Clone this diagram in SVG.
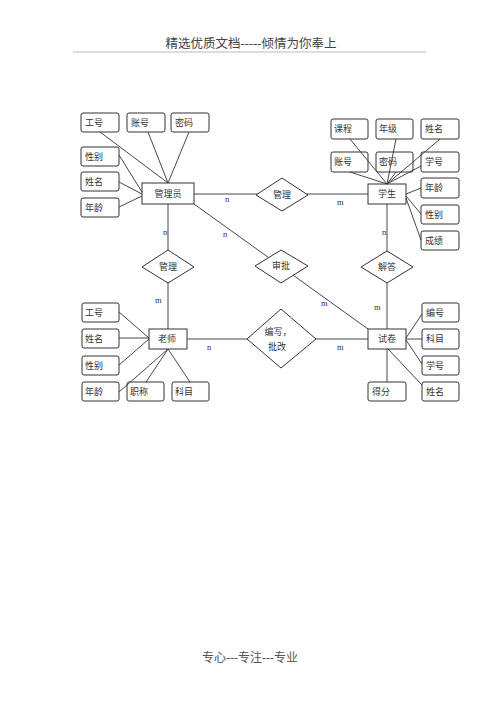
<svg xmlns="http://www.w3.org/2000/svg" width="500" height="708" viewBox="0 0 500 708">
<style>
text{font-family:"Liberation Serif","Noto Sans CJK SC",serif;fill:#333;}
.t{font-size:9px;text-anchor:middle;dominant-baseline:central;}
.c{font-size:8.5px;}
.box{fill:none;stroke:#333;stroke-width:1;}
.att{fill:none;stroke:#333;stroke-width:1;}
.dia{fill:#fff;stroke:#333;stroke-width:1;}
#connectors line{stroke:#333;stroke-width:0.9;}
</style>
<rect width="500" height="708" fill="#fff"/>
<text x="251" y="48" style="font-size:12.5px;text-anchor:middle;fill:#444">精选优质文档-----倾情为你奉上</text>
<line x1="73" y1="52" x2="426" y2="52" stroke="#bbb" stroke-width="1.2"/>
<text x="250" y="662" style="font-size:12px;text-anchor:middle;fill:#555">专心---专注---专业</text>

<g id="connectors">
<line x1="100" y1="132" x2="168" y2="183"/>
<line x1="148" y1="132" x2="168" y2="183"/>
<line x1="189" y1="132" x2="168" y2="183"/>
<line x1="119" y1="155" x2="142" y2="192"/>
<line x1="119" y1="182" x2="142" y2="194"/>
<line x1="119" y1="207" x2="142" y2="196"/>
<line x1="194" y1="194" x2="368" y2="194"/>
<line x1="194" y1="204" x2="368" y2="329"/>
<line x1="168" y1="204" x2="168" y2="329"/>
<line x1="350" y1="139" x2="387" y2="184"/>
<line x1="396" y1="139" x2="387" y2="184"/>
<line x1="440" y1="139" x2="387" y2="184"/>
<line x1="350" y1="172" x2="387" y2="184"/>
<line x1="396" y1="172" x2="387" y2="184"/>
<line x1="421" y1="166" x2="387" y2="184"/>
<line x1="421" y1="188" x2="406" y2="194"/>
<line x1="421" y1="214" x2="406" y2="196"/>
<line x1="421" y1="240" x2="406" y2="198"/>
<line x1="387" y1="204" x2="387" y2="329"/>
<line x1="187" y1="339" x2="368" y2="339"/>
<line x1="119" y1="312" x2="149" y2="338"/>
<line x1="119" y1="338" x2="149" y2="338"/>
<line x1="119" y1="365" x2="149" y2="339"/>
<line x1="119" y1="392" x2="168" y2="349"/>
<line x1="146" y1="382" x2="168" y2="349"/>
<line x1="190" y1="382" x2="168" y2="349"/>
<line x1="422" y1="314" x2="406" y2="338"/>
<line x1="422" y1="339" x2="406" y2="339"/>
<line x1="422" y1="364" x2="406" y2="340"/>
<line x1="422" y1="385" x2="388" y2="349"/>
<line x1="387" y1="349" x2="387" y2="382"/>
</g>

<g id="cardinalities" class="c">
<text x="225" y="202">n</text>
<text x="337" y="205">m</text>
<text x="223" y="237">n</text>
<text x="321" y="306">m</text>
<text x="163" y="235">n</text>
<text x="155" y="303">m</text>
<text x="382" y="235">n</text>
<text x="374" y="310">m</text>
<text x="207" y="350">n</text>
<text x="337" y="350">m</text>
</g>

<g id="admin"><rect class="box" x="142" y="183" width="52" height="21"/><text class="t" x="168" y="194">管理员</text></g>
<g id="a_gonghao"><rect class="att" x="81" y="113" width="38" height="19" rx="2"/><text class="t" x="94" y="123">工号</text></g>
<g id="a_zhanghao"><rect class="att" x="127" y="113" width="38" height="19" rx="2"/><text class="t" x="140" y="123">账号</text></g>
<g id="a_mima"><rect class="att" x="171" y="113" width="38" height="19" rx="2"/><text class="t" x="184" y="123">密码</text></g>
<g id="a_xingbie"><rect class="att" x="81" y="147" width="38" height="19" rx="2"/><text class="t" x="94" y="157">性别</text></g>
<g id="a_xingming"><rect class="att" x="81" y="172" width="38" height="19" rx="2"/><text class="t" x="94" y="182">姓名</text></g>
<g id="a_nianling"><rect class="att" x="81" y="198" width="38" height="19" rx="2"/><text class="t" x="94" y="208">年龄</text></g>

<g id="rel_guanli1"><polygon class="dia" points="256,195 282,178 308,195 282,211"/><text class="t" x="282" y="195">管理</text></g>

<g id="student"><rect class="box" x="368" y="184" width="38" height="20"/><text class="t" x="387" y="194">学生</text></g>
<g id="s_kecheng"><rect class="att" x="331" y="119" width="37" height="20" rx="2"/><text class="t" x="343" y="129">课程</text></g>
<g id="s_nianji"><rect class="att" x="376" y="119" width="37" height="20" rx="2"/><text class="t" x="388" y="129">年级</text></g>
<g id="s_xingming"><rect class="att" x="421" y="119" width="38" height="20" rx="2"/><text class="t" x="434" y="129">姓名</text></g>
<g id="s_zhanghao"><rect class="att" x="331" y="152" width="37" height="20" rx="2"/><text class="t" x="343" y="162">账号</text></g>
<g id="s_mima"><rect class="att" x="376" y="152" width="37" height="20" rx="2"/><text class="t" x="388" y="162">密码</text></g>
<g id="s_xuehao"><rect class="att" x="421" y="152" width="38" height="20" rx="2"/><text class="t" x="434" y="162">学号</text></g>
<g id="s_nianling"><rect class="att" x="421" y="178" width="38" height="20" rx="2"/><text class="t" x="434" y="188">年龄</text></g>
<g id="s_xingbie"><rect class="att" x="421" y="205" width="38" height="19" rx="2"/><text class="t" x="434" y="215">性别</text></g>
<g id="s_chengji"><rect class="att" x="421" y="231" width="38" height="19" rx="2"/><text class="t" x="434" y="241">成绩</text></g>

<g id="rel_guanli2"><polygon class="dia" points="142,267 168,250 194,267 168,283"/><text class="t" x="168" y="267">管理</text></g>
<g id="rel_shenpi"><polygon class="dia" points="255,266 281,250 308,266 281,283"/><text class="t" x="281" y="266">审批</text></g>
<g id="rel_jieda"><polygon class="dia" points="361,267 387,251 413,267 387,283"/><text class="t" x="387" y="267">解答</text></g>

<g id="teacher"><rect class="box" x="149" y="329" width="38" height="20"/><text class="t" x="167" y="339">老师</text></g>
<g id="t_gonghao"><rect class="att" x="82" y="303" width="37" height="19" rx="2"/><text class="t" x="94" y="313">工号</text></g>
<g id="t_xingming"><rect class="att" x="82" y="329" width="37" height="19" rx="2"/><text class="t" x="94" y="339">姓名</text></g>
<g id="t_xingbie"><rect class="att" x="82" y="356" width="37" height="19" rx="2"/><text class="t" x="94" y="366">性别</text></g>
<g id="t_nianling"><rect class="att" x="82" y="382" width="37" height="19" rx="2"/><text class="t" x="94" y="392">年龄</text></g>
<g id="t_zhicheng"><rect class="att" x="127" y="382" width="37" height="19" rx="2"/><text class="t" x="139" y="392">职称</text></g>
<g id="t_kemu"><rect class="att" x="172" y="382" width="37" height="19" rx="2"/><text class="t" x="184" y="392">科目</text></g>

<g id="rel_bianxie"><polygon class="dia" points="247,339 281,309 316,339 281,368"/><text class="t" x="278" y="332">编写，</text><text class="t" x="277" y="347">批改</text></g>

<g id="paper"><rect class="box" x="368" y="329" width="38" height="20"/><text class="t" x="387" y="339">试卷</text></g>
<g id="p_bianhao"><rect class="att" x="422" y="303" width="37" height="19" rx="2"/><text class="t" x="435" y="313">编号</text></g>
<g id="p_kemu"><rect class="att" x="422" y="329" width="37" height="20" rx="2"/><text class="t" x="435" y="339">科目</text></g>
<g id="p_xuehao"><rect class="att" x="422" y="356" width="37" height="19" rx="2"/><text class="t" x="435" y="366">学号</text></g>
<g id="p_xingming"><rect class="att" x="422" y="382" width="37" height="19" rx="2"/><text class="t" x="435" y="392">姓名</text></g>
<g id="p_defen"><rect class="att" x="368" y="382" width="38" height="19" rx="2"/><text class="t" x="381" y="392">得分</text></g>
</svg>
